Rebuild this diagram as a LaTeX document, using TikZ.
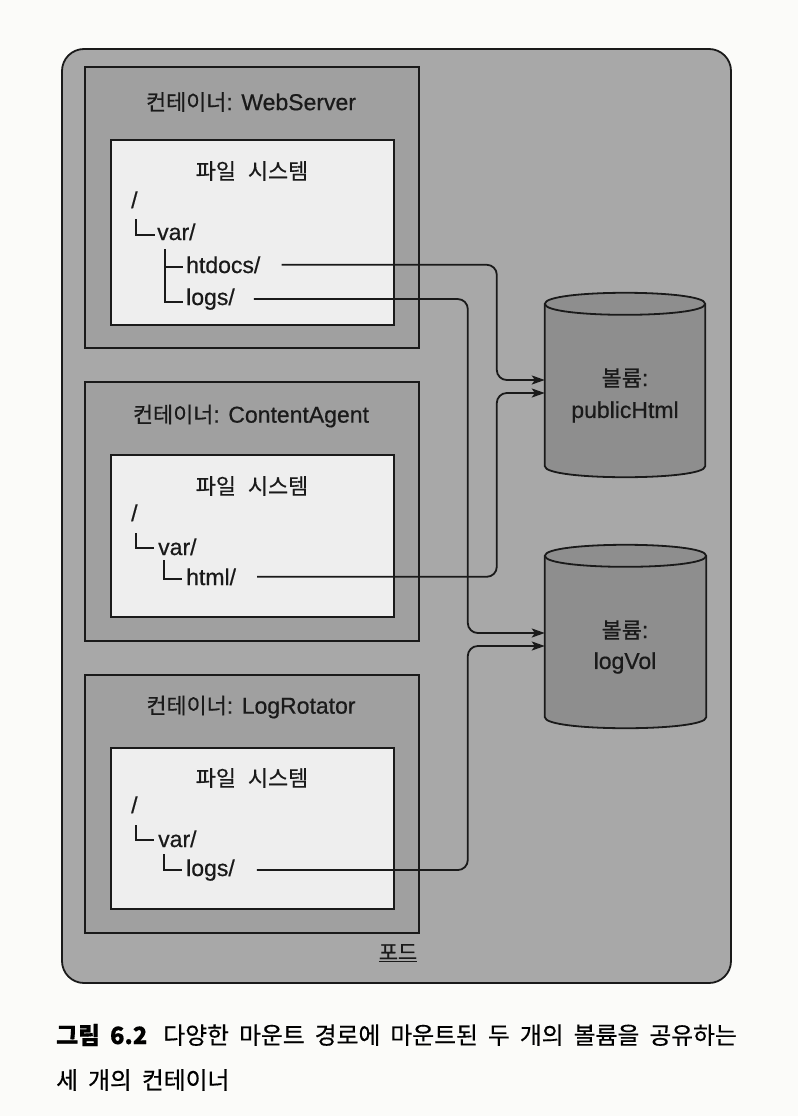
\documentclass[tikz,border=0pt]{standalone}
\usepackage{fontspec}
\setmainfont{Liberation Sans}[FakeBold=0.6]
\newfontfamily\kr{Noto Sans CJK KR}[Scale=0.95,FakeBold=0.6]
\newfontfamily\krcap{Noto Sans CJK KR}[FakeBold=0.5]
\usetikzlibrary{arrows.meta,calc}
\definecolor{podfill}{HTML}{A8A8A8}
\definecolor{ctfill}{HTML}{A0A0A0}
\definecolor{fsfill}{HTML}{EEEEEE}
\definecolor{cylfill}{HTML}{8E8E8E}
\definecolor{ink}{HTML}{1A1A1A}
\definecolor{paper}{HTML}{FBFBF9}
\newcommand{\capfont}{\krcap\fontsize{23.8}{28}\selectfont\spaceskip=10pt\relax}
\newcommand{\fsfont}{\kr\spaceskip=12pt\relax}
\tikzset{
  podbox/.style={draw=ink, line width=1.8pt, fill=podfill, rounded corners=22pt, inner sep=0pt, minimum width=669pt, minimum height=934pt},
  ctbox/.style={draw=ink, line width=1.8pt, fill=ctfill, inner sep=0pt, minimum width=334pt},
  fsbox/.style={draw=ink, line width=1.8pt, fill=fsfill, inner sep=0pt, minimum width=283pt},
  lbl/.style={font=\fontsize{23}{27}\selectfont, text=ink, inner sep=0pt},
  treetxt/.style={lbl, anchor=base west},
  treeline/.style={draw=ink, line width=1.8pt},
  conn/.style={draw=ink, line width=1.8pt, rounded corners=10pt, -{Stealth[length=13pt,width=9pt,inset=3pt]}},
  cylbody/.style={fill=cylfill, draw=ink, line width=1.8pt},
  cylfront/.style={draw=ink, line width=1.8pt},
  cylanchor/.style={shape=rectangle, inner sep=0pt, minimum width=160pt, minimum height=184pt},
  caption/.style={font=\capfont, text=black, inner sep=0pt, anchor=west}
}
\newcommand{\cylinderat}[1]{%
  \path[cylbody] ($(#1.north west)+(0,11)$) -- ($(#1.south west)+(0,-11)$)
    .. controls ($(#1.south west)+(0,3.7)$) and ($(#1.south east)+(0,3.7)$) .. ($(#1.south east)+(0,-11)$)
    -- ($(#1.north east)+(0,11)$)
    .. controls ($(#1.north east)+(0,-3.7)$) and ($(#1.north west)+(0,-3.7)$) .. ($(#1.north west)+(0,11)$) -- cycle;
  \draw[cylfront] ($(#1.north west)+(0,11)$) .. controls ($(#1.north west)+(0,25.7)$) and ($(#1.north east)+(0,25.7)$) .. ($(#1.north east)+(0,11)$);
}
\begin{document}
\begin{tikzpicture}[x=1pt,y=-1pt]
\useasboundingbox[fill=paper] (0,0) rectangle (798,1116);
% pod
\node[podbox] (pod) at (396.5,516) {};
\node[lbl, font=\kr\fontsize{22}{26}\selectfont] (podl) at (398,953) {\underline{포드}};
% containers
\node[ctbox, minimum height=281pt] (c1) at (252,207.5) {};
\node[ctbox, minimum height=259pt] (c2) at (252,511.5) {};
\node[ctbox, minimum height=258pt] (c3) at (252,804) {};
\node[fsbox, minimum height=185pt] (f1) at (252.5,232.5) {};
\node[fsbox, minimum height=162pt] (f2) at (252.5,536) {};
\node[fsbox, minimum height=161pt] (f3) at (252.5,828.5) {};
% titles
\node[lbl] (c1t) at (251,102) {{\kr 컨테이너}: WebServer};
\node[lbl] (c2t) at (251,416) {{\kr 컨테이너}: ContentAgent};
\node[lbl] (c3t) at (251,707) {{\kr 컨테이너}: LogRotator};
\node[lbl] (f1t) at (252,171) {\fsfont 파일 시스템};
\node[lbl] (f2t) at (252,486) {\fsfont 파일 시스템};
\node[lbl] (f3t) at (252,778) {\fsfont 파일 시스템};
% trees
\node[treetxt] (r1) at (131,208) {/};
\node[treetxt] (v1) at (157,240) {var/};
\node[treetxt] (ht) at (186,273) {htdocs/};
\node[treetxt] (lg1) at (186,305) {logs/};
\draw[treeline] (136,219) -- (136,235) -- (155,235);
\draw[treeline] (165,249) -- (165,302) -- (183,302);
\draw[treeline] (165,267) -- (183,267);
\node[treetxt] (r2) at (131,521) {/};
\node[treetxt] (v2) at (158,555) {var/};
\node[treetxt] (hm) at (186,585) {html/};
\draw[treeline] (136,533) -- (136,548) -- (154,548);
\draw[treeline] (164,560) -- (164,579) -- (182,579);
\node[treetxt] (r3) at (131,813) {/};
\node[treetxt] (v3) at (158,847) {var/};
\node[treetxt] (lg3) at (186,876) {logs/};
\draw[treeline] (136,825) -- (136,840) -- (154,840);
\draw[treeline] (164,854) -- (164,870) -- (182,870);
% volumes
\node[cylanchor] (pv) at (625,385) {};
\node[cylanchor, minimum width=161pt, minimum height=183pt] (lv) at (625.5,636.5) {};
\cylinderat{pv}
\cylinderat{lv}
\node[lbl] (pvt1) at (625,378) {{\kr 볼륨}:};
\node[lbl] (pvt2) at (625,412) {publicHtml};
\node[lbl] (lvt1) at (625,630) {{\kr 볼륨}:};
\node[lbl] (lvt2) at (625,663) {logVol};
% connectors
\draw[conn] ([xshift=21pt]ht.east) -| ([xshift=-48pt,yshift=5pt]pv.west) -- ([yshift=5pt]pv.west);
\draw[conn] ([xshift=21pt]hm.east) -| ([xshift=-48pt,yshift=-8pt]pv.west) -- ([yshift=-8pt]pv.west);
\draw[conn] ([xshift=19pt]lg1.east) -| ([xshift=-77pt,yshift=3.5pt]lv.west) -- ([yshift=3.5pt]lv.west);
\draw[conn] ([xshift=22pt]lg3.east) -| ([xshift=-77pt,yshift=-9.5pt]lv.west) -- ([yshift=-9.5pt]lv.west);
% caption
\node[caption] (cap1) at (56,1035) {{\bfseries 그림 6.2}\hspace{6pt} 다양한 마운트 경로에 마운트된 두 개의 볼륨을 공유하는};
\node[caption] (cap2) at (56,1080) {세 개의 컨테이너};
\end{tikzpicture}
\end{document}
